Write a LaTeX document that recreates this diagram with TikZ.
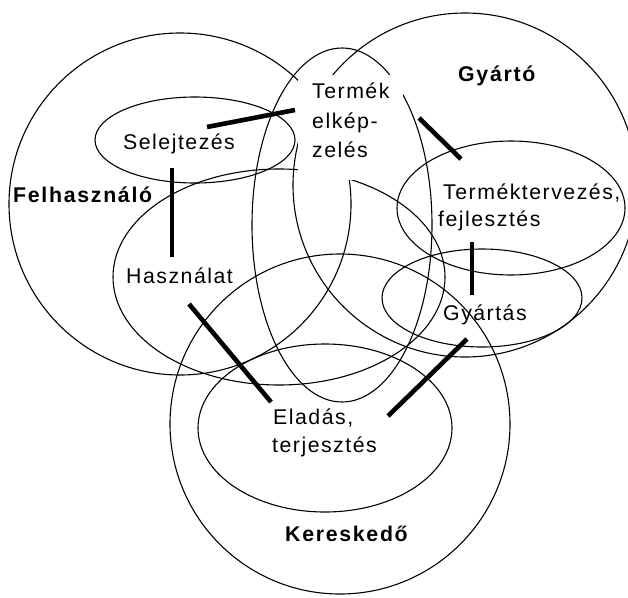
\documentclass[tikz,border=0pt]{standalone}
\usepackage{fontspec}
\setmainfont{Liberation Sans}[LetterSpace=7]
\newfontfamily\rolefamily{Liberation Sans}[LetterSpace=8]
\usetikzlibrary{calc}

\tikzset{
  outline/.style={line width=1.1pt},
  linkbar/.style={line width=4.6pt},
  stage/.style={font=\fontsize{21.3}{24}\selectfont, inner sep=0pt, anchor=base west},
  role/.style={font=\rolefamily\fontsize{21.3}{24}\selectfont\bfseries, inner sep=0pt, anchor=base west},
}

\begin{document}
\begin{tikzpicture}[x=1pt,y=-1pt]
\useasboundingbox (0,0) rectangle (628,597);
\clip (0,0) rectangle (628,597);

% the three actors
\draw[outline] (180,204) circle [radius=171pt];   % Felhasználó
\draw[outline] (465,185) circle [radius=172pt];   % Gyártó
\draw[outline] (340,424) circle [radius=170pt];   % Kereskedő

% life-cycle stages
\draw[outline] (195,140) ellipse [x radius=100pt, y radius=43pt];  % Selejtezés
\draw[outline] (279,277) ellipse [x radius=166pt, y radius=108pt]; % Használat
\draw[outline] (342,225) ellipse [x radius=90pt, y radius=177pt];  % Termék elképzelés
\draw[outline] (511,208) ellipse [x radius=114pt, y radius=67pt];  % Terméktervezés
\draw[outline] (482,298) ellipse [x radius=100pt, y radius=49pt];  % Gyártás
\draw[outline] (325,428) ellipse [x radius=127pt, y radius=84pt];  % Eladás

% opaque text panel of the first stage
\fill[white] (298,75) rectangle (403,180);

% transitions between stages
\coordinate (s1) at (207,127); \coordinate (s2) at (295,110);
\coordinate (s3) at (172,168); \coordinate (s4) at (172,257);
\coordinate (s5) at (419,118); \coordinate (s6) at (461,159);
\coordinate (s7) at (472,242); \coordinate (s8) at (472,295);
\coordinate (s9) at (189,304); \coordinate (s10) at (271,402);
\coordinate (s11) at (388,416); \coordinate (s12) at (467,339);
\draw[linkbar] (s1) -- (s2);
\draw[linkbar] (s3) -- (s4);
\draw[linkbar] (s5) -- (s6);
\draw[linkbar] (s7) -- (s8);
\draw[linkbar] (s9) -- (s10);
\draw[linkbar] (s11) -- (s12);

% stage labels
\node[stage] (selejt) at (123,149) {Selejtezés};
\node[stage] (haszn) at (126,283) {Használat};
\node[stage] (termek1) at (312,98) {Termék};
\node[stage] (termek2) at (312,128) {elkép-};
\node[stage] (termek3) at (312,157) {zelés};
\node[stage] (terv1) at (443,199) {Terméktervezés,};
\node[stage] (terv2) at (438,226) {fejlesztés};
\node[stage] (gyartas) at (443,320) {Gyártás};
\node[stage] (elad1) at (273,424) {Eladás,};
\node[stage] (elad2) at (272,452) {terjesztés};

% actor labels
\node[role] (felh) at (13,202) {Felhasználó};
\node[role] (gyarto) at (458,81) {Gyártó};
\node[role] (keresk) at (285,541) {Kereskedő};
\end{tikzpicture}
\end{document}
